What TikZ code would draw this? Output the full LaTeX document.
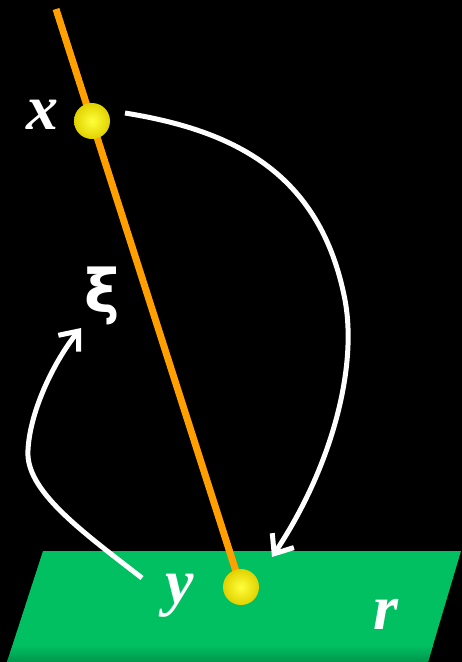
\documentclass[tikz,border=0pt]{standalone}
\usepackage{fontspec}
\setmainfont{Liberation Serif}
\newfontfamily\xifont{DejaVu Sans}
\usetikzlibrary{arrows.meta}
\definecolor{plane}{RGB}{0,192,98}
\definecolor{planedark}{RGB}{0,150,75}
\definecolor{rod}{RGB}{255,160,0}
\definecolor{ballin}{RGB}{255,255,60}
\definecolor{ballout}{RGB}{225,210,0}
\tikzset{
  lbl/.style={text=white,inner sep=0pt,font=\fontsize{64}{64}\selectfont\bfseries\itshape},
  ball/.style={circle,minimum size=36pt,inner sep=0pt,shading=radial,inner color=ballin,outer color=ballout},
  flow/.style={draw=white,line width=5pt,-{Straight Barb[length=16pt,width=26pt]}}
}
\begin{document}
\begin{tikzpicture}[x=1pt,y=-1pt]
\fill[black] (0,0) rectangle (462,662);
\useasboundingbox (0,0) rectangle (462,662);
% plane
\fill[plane] (43,551) -- (461,551) -- (428,662) -- (7,662) -- cycle;
\shade[top color=plane,bottom color=planedark] (13,645) -- (433,645) -- (428,662) -- (7,662) -- cycle;
% balls and rod
\coordinate (top) at (56,9);
\node (by) at (241,587) {};
\draw[rod,line width=7pt] (top) -- (by.center);
\node[ball] (bx) at (92,121) {};
\node[ball] (byb) at (241,587) {};
% labels
\node[lbl] (lx) at (42,115) {x};
\node[lbl,font=\fontsize{60}{60}\selectfont\xifont\bfseries] (lxi) at (102,296) {ξ};
\node[lbl] (ly) at (180,596) {y};
\node[lbl] (lr) at (386,614) {r};
% arrows
\coordinate (a1s) at (125,113);
\coordinate (a1e) at (272,557);
\draw[flow] (a1s) .. controls (230,130) and (320,170) .. (345,300)
  .. controls (358,370) and (330,470) .. (a1e);
\coordinate (a2s) at (142,578);
\coordinate (a2e) at (81,328);
\draw[flow] (a2s) .. controls (80,530) and (25,490) .. (28,450)
  .. controls (30,410) and (55,360) .. (a2e);
\end{tikzpicture}
\end{document}
